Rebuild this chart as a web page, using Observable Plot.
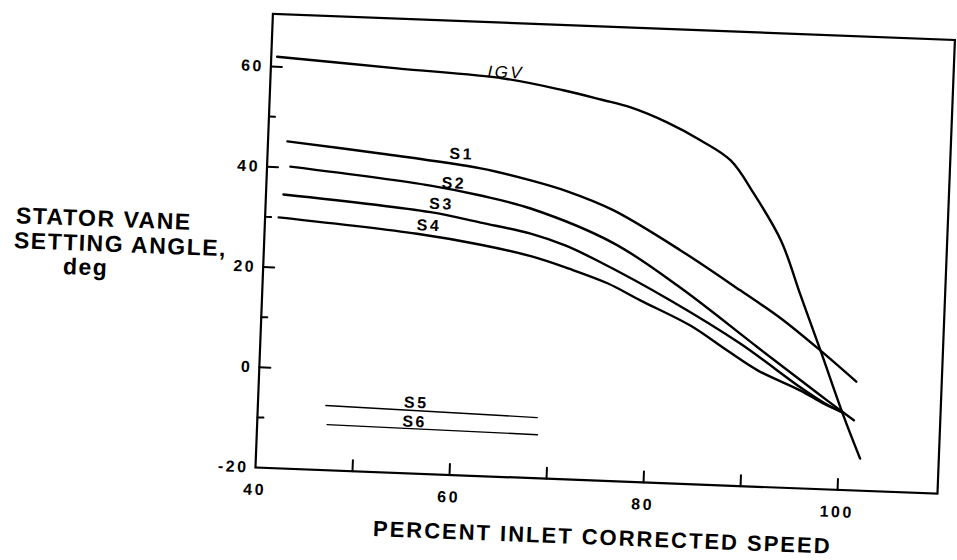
<!DOCTYPE html>
<html><head><meta charset="utf-8">
<script src="https://cdn.jsdelivr.net/npm/d3@7"></script>
<script src="https://cdn.jsdelivr.net/npm/@observablehq/plot@0.6"></script>
<style>
html,body{margin:0;padding:0;background:#fff;overflow:hidden;}
#wrap{position:absolute;left:0;top:0;width:957px;height:560px;transform:rotate(2.2deg);transform-origin:255px 467px;}
#wrap svg{display:block;overflow:visible;}
g[aria-label="x-axis tick label"] text, g[aria-label="y-axis tick label"] text {letter-spacing:2.5px;}
</style></head><body><div id="wrap"></div>
<script>
// ---- data ----
const igvX = [40.6, 53.0, 64.0, 70.2, 74.2, 77.2, 81.0, 84.5, 87.7, 90.2, 93.2, 95.4, 97.7, 100.3, 102.2];
const igvY = [62.0, 60.6, 59.4, 57.5, 55.9, 54.6, 51.9, 48.6, 44.8, 38.4, 29.2, 18.6, 7.6, -5.1, -13.6];
const s1X = [42.0, 51.6, 62.0, 67.2, 71.0, 75.8, 82.9, 89.2, 93.5, 97.7, 101.5];
const s1Y = [45.2, 43.5, 41.3, 39.3, 37.4, 34.0, 26.5, 19.0, 13.7, 7.6, 1.7];
const s2X = [42.4, 56.9, 62.1, 67.3, 76.0, 83.0, 91.2, 95.8, 98.6, 101.4];
const s2Y = [40.2, 37.5, 35.9, 33.7, 27.4, 19.1, 7.8, 1.5, -2.3, -6.0];
const s3X = [41.8, 57.0, 62.2, 67.4, 71.0, 74.4, 82.1, 89.4, 95.8, 98.2, 100.3];
const s3Y = [34.6, 32.2, 30.5, 28.7, 26.6, 23.8, 16.4, 8.4, 0.1, -2.7, -4.6];
const s4X = [41.4, 55.7, 62.3, 67.5, 71.5, 75.5, 79.0, 84.2, 88.1, 91.3, 95.8, 98.2, 100.3];
const s4Y = [30.0, 27.8, 26.1, 24.2, 22.0, 19.4, 16.2, 11.6, 6.9, 3.2, -0.5, -2.9, -4.6];
const s5X = [47.0, 68.8];
const s5Y = [-7.1, -7.9];
const s6X = [47.2, 68.9];
const s6Y = [-10.9, -11.3];

const labelNames = ["S1", "S2", "S3", "S4", "S5", "S6"];
const labelX = [60.0, 59.3, 58.1, 56.9, 56.3, 56.2];
const labelY = [44.0, 38.1, 33.9, 29.5, -5.9, -9.7];
const igvLabel = ["IGV"];
const igvLabelX = [64.2];
const igvLabelY = [60.6];

const xTickLabels = [40, 60, 80, 100];
const xTickMarks = [50, 60, 70, 80, 90, 100];
const yTickLabels = [-20, 0, 20, 40, 60];
const yMajorTicks = [0, 20, 40, 60];
const yMinorTicks = [-10, 10, 30, 50];
const xTitle = "PERCENT INLET CORRECTED SPEED";
const yTitle = ["STATOR VANE", "SETTING ANGLE,", "deg"];

// ---- build tables ----
const toRows = (name, xs, ys) => xs.map((x, i) => ({series: name, x, y: ys[i]}));
const mainRows = [
  ...toRows("IGV", igvX, igvY),
  ...toRows("S1", s1X, s1Y),
  ...toRows("S2", s2X, s2Y),
  ...toRows("S3", s3X, s3Y),
  ...toRows("S4", s4X, s4Y)
];
const thinRows = [...toRows("S5", s5X, s5Y), ...toRows("S6", s6X, s6Y)];
const labels = labelNames.map((n, i) => ({n, x: labelX[i], y: labelY[i]}));
const igvLab = igvLabel.map((n, i) => ({n, x: igvLabelX[i], y: igvLabelY[i]}));

const tickShape = {draw(context, l) { context.moveTo(0, 0); context.lineTo(0, -l); }};

const font = "'Liberation Sans', Arial, Helvetica, sans-serif";

const chart = Plot.plot({
  width: 957,
  height: 560,
  marginLeft: 255,
  marginRight: 19.5,
  marginTop: 13,
  marginBottom: 93,
  style: {fontFamily: font, color: "black", background: "transparent"},
  x: {domain: [40, 110.3]},
  y: {domain: [-20, 70.5]},
  marks: [
    Plot.frame({stroke: "black", strokeWidth: 2.2}),
    Plot.vector(xTickMarks, {x: d => d, frameAnchor: "bottom", length: 11, anchor: "start", shape: tickShape, stroke: "black", strokeWidth: 2}),
    Plot.vector(yMajorTicks, {y: d => d, frameAnchor: "left", rotate: 90, length: 11, anchor: "start", shape: tickShape, stroke: "black", strokeWidth: 2}),
    Plot.vector(yMinorTicks, {y: d => d, frameAnchor: "left", rotate: 90, length: 6, anchor: "start", shape: tickShape, stroke: "black", strokeWidth: 2}),
    Plot.axisX(xTickLabels, {tickSize: 0, tickPadding: 16, tickFormat: d => String(d), fontSize: 16, fontWeight: "bold", label: null}),
    Plot.axisY(yTickLabels, {tickSize: 0, tickPadding: 7, tickFormat: d => String(d), fontSize: 16, fontWeight: "bold", label: null}),
    Plot.line(mainRows, {x: "x", y: "y", z: "series", curve: "catmull-rom", stroke: "black", strokeWidth: 2.4}),
    Plot.line(thinRows, {x: "x", y: "y", z: "series", stroke: "black", strokeWidth: 1.4}),
    Plot.text(labels, {x: "x", y: "y", text: "n", fontSize: 16, fontWeight: "bold", fill: "black"}),
    Plot.text(igvLab, {x: "x", y: "y", text: "n", fontSize: 17, fontStyle: "italic", fill: "black"}),
    Plot.text([xTitle], {text: d => d, frameAnchor: "bottom", textAnchor: "middle", lineAnchor: "bottom", dx: 8, dy: 64, fontSize: 22, fontWeight: "bold", fill: "black"}),
    Plot.text([yTitle[0]], {text: d => d, frameAnchor: "left", textAnchor: "start", lineAnchor: "bottom", dx: -249, dy: -8, fontSize: 23, fontWeight: "bold", fill: "black"}),
    Plot.text([yTitle[1]], {text: d => d, frameAnchor: "left", textAnchor: "start", lineAnchor: "bottom", dx: -250, dy: 17, fontSize: 23, fontWeight: "bold", fill: "black"}),
    Plot.text([yTitle[2]], {text: d => d, frameAnchor: "left", textAnchor: "start", lineAnchor: "bottom", dx: -200, dy: 41, fontSize: 23, fontWeight: "bold", fill: "black"})
  ]
});
// letter spacing to mimic the spaced-out lettering of the scan
d3.select(chart).selectAll("text").each(function () {
  const t = this.textContent;
  if (t === xTitle) this.style.letterSpacing = "2px";
  else if (yTitle.includes(t)) this.style.letterSpacing = "1.5px";
  else if (labelNames.includes(t) || igvLabel.includes(t)) this.style.letterSpacing = "2.5px";
});
document.getElementById("wrap").appendChild(chart);
</script></body></html>
